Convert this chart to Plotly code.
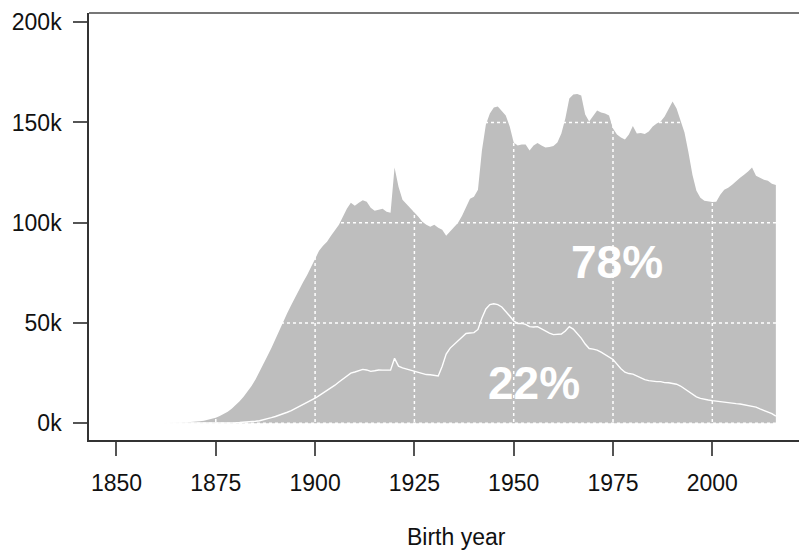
import plotly.graph_objects as go

years = list(range(1858, 2017))

# total births per year (thousands) - grey area
total_k = [
    0.0, 0.0, 0.1, 0.1, 0.1, 0.2, 0.2, 0.3, 0.3, 0.4,          # 1858-1867
    0.5, 0.6, 0.8, 1.0, 1.3, 1.7, 2.2, 2.8, 3.6, 4.6,          # 1868-1877
    5.8, 7.3, 9.0, 11.0, 13.2, 15.8, 18.6, 21.8, 25.5, 29.5,   # 1878-1887
    33.5, 37.5, 42.0, 46.5, 50.8, 55.0, 59.0, 63.0, 67.0, 70.5,  # 1888-1897
    74.0, 78.0, 82.0, 86.0, 88.5, 90.5, 93.5, 96.5, 99.0, 103.0,  # 1898-1907
    107.0, 110.0, 108.5, 110.0, 111.2, 110.5, 107.5, 106.0, 106.5, 107.0,  # 1908-1917
    105.5, 105.0, 127.5, 118.0, 111.5, 109.5, 107.5, 105.5, 103.0, 100.5,  # 1918-1927
    99.0, 98.0, 99.0, 97.5, 96.5, 93.5, 95.5, 98.0, 100.0, 103.5,  # 1928-1937
    108.0, 112.0, 113.0, 116.5, 136.0, 149.0, 154.5, 157.5, 158.0, 156.0,  # 1938-1947
    153.5, 148.0, 140.0, 138.5, 139.0, 139.0, 136.0, 138.5, 139.8, 138.5,  # 1948-1957
    137.5, 137.8, 138.3, 140.0, 144.5, 152.0, 162.0, 164.0, 164.2, 163.5,  # 1958-1967
    154.0, 150.5, 153.5, 156.0, 155.0, 154.5, 153.5, 147.0, 144.0, 142.5,  # 1968-1977
    141.5, 144.0, 148.3, 144.5, 144.8, 144.2, 145.5, 148.0, 149.5, 150.5,  # 1978-1987
    153.0, 157.0, 160.5, 157.0, 151.0, 145.0, 135.0, 124.0, 116.0, 112.5,  # 1988-1997
    111.0, 110.5, 110.3, 110.5, 114.0, 116.5, 117.5, 119.0, 121.0, 122.5,  # 1998-2007
    124.0, 125.5, 127.5, 123.5, 122.5, 121.5, 121.0, 119.5, 118.8,  # 2008-2016
]

# subset births per year (thousands) - white line
subset_k = [
    0.0, 0.0, 0.0, 0.0, 0.0, 0.0, 0.0, 0.0, 0.0, 0.0,          # 1858-1867
    0.0, 0.0, 0.05, 0.05, 0.05, 0.1, 0.1, 0.1, 0.1, 0.2,       # 1868-1877
    0.2, 0.3, 0.3, 0.4, 0.5, 0.6, 0.8, 1.0, 1.3, 1.7,          # 1878-1887
    2.2, 2.8, 3.4, 4.0, 4.7, 5.5, 6.3, 7.3, 8.3, 9.3,          # 1888-1897
    10.4, 11.5, 12.5, 13.8, 15.0, 16.3, 17.6, 19.0, 20.6, 22.2,  # 1898-1907
    23.8, 25.0, 25.6, 26.2, 26.9, 26.6, 25.9, 26.2, 26.6, 26.5,  # 1908-1917
    26.6, 26.5, 32.4, 28.5, 27.6, 27.0, 26.4, 26.0, 25.2, 24.8,  # 1918-1927
    24.3, 24.2, 23.9, 23.6, 28.5, 34.5, 37.5, 39.3, 41.0, 43.0,  # 1928-1937
    44.8, 45.0, 45.2, 46.8, 52.5, 57.0, 59.2, 59.6, 59.2, 58.0,  # 1938-1947
    56.0, 53.5, 51.0, 49.8, 49.8, 49.3, 48.2, 48.0, 48.2, 47.0,  # 1948-1957
    46.0, 45.0, 44.2, 44.3, 44.5, 46.0, 48.2, 47.0, 45.0, 42.5,  # 1958-1967
    39.5, 37.3, 37.0, 36.5, 35.5, 34.3, 33.0, 31.8, 29.5, 27.2,  # 1968-1977
    25.5, 24.8, 24.5, 23.6, 22.6, 21.8, 21.3, 21.0, 20.8, 20.8,  # 1978-1987
    20.3, 20.2, 20.0, 19.5, 18.6, 17.3, 15.8, 14.3, 13.2, 12.4,  # 1988-1997
    11.9, 11.6, 11.3, 11.0, 10.9, 10.7, 10.4, 10.1, 9.8, 9.6,   # 1998-2007
    9.3, 9.0, 8.6, 8.1, 7.2, 6.5, 5.8, 4.8, 3.6,                 # 2008-2016
]

x_ticks = [1850, 1875, 1900, 1925, 1950, 1975, 2000]
y_ticks = [0, 50, 100, 150, 200]
y_tick_labels = ["0k", "50k", "100k", "150k", "200k"]

share_labels = ["78%", "22%"]
share_pos_x = [1975.9, 1955.2]
share_pos_y = [80.2, 20.0]

FONT = "Liberation Sans, Arial, Helvetica, sans-serif"

# The page body has an 8px default margin, so the figure is sized/offset to fit it.
W, H = 799, 542
ML, MT, MR = 81, 5, 0
PLOT_H = 427
MB = H - MT - PLOT_H
PLOT_W = W - ML - MR

fig = go.Figure()
fig.add_trace(go.Scatter(
    x=years, y=total_k, mode="lines", fill="tozeroy",
    fillcolor="#bebebe", line=dict(width=0, color="#bebebe"),
    hoverinfo="skip", showlegend=False))
fig.add_trace(go.Scatter(
    x=years, y=subset_k, mode="lines",
    line=dict(width=1.4, color="white"),
    hoverinfo="skip", showlegend=False))

shapes = []
for xv in x_ticks:
    shapes.append(dict(type="line", xref="x", yref="paper", x0=xv, x1=xv, y0=0, y1=1,
                       line=dict(color="white", width=1.5, dash="dot"), layer="above"))
for yv in y_ticks:
    shapes.append(dict(type="line", xref="paper", yref="y", x0=0, x1=1, y0=yv, y1=yv,
                       line=dict(color="white", width=1.5, dash="dot"), layer="above"))
# top frame line
shapes.append(dict(type="line", xref="paper", yref="paper", x0=0, x1=1, y0=1, y1=1,
                   line=dict(color="#777777", width=2), layer="above"))

annotations = []
for t, ax_, ay_ in zip(share_labels, share_pos_x, share_pos_y):
    annotations.append(dict(x=ax_, y=ay_, xref="x", yref="y", text=t, showarrow=False,
                            font=dict(family=FONT, size=46, color="white", weight=700),
                            xanchor="center", yanchor="middle"))
# x-axis title: centre at page x=456.5, y=537 (page coords), plot area starts at (89, 13)
annotations.append(dict(x=(456.5 - 89) / PLOT_W, y=(440 - 537) / PLOT_H, xref="paper", yref="paper",
                        text="Birth year", showarrow=False,
                        font=dict(family=FONT, size=23, color="#111111"),
                        xanchor="center", yanchor="middle"))

fig.update_layout(
    width=W, height=H,
    margin=dict(l=ML, r=MR, t=MT, b=MB, pad=0),
    paper_bgcolor="white", plot_bgcolor="white",
    shapes=shapes, annotations=annotations,
    font=dict(family=FONT, size=23, color="#111111"),
    xaxis=dict(range=[1843.08, 2023.84], tickvals=x_ticks, showgrid=False, zeroline=False,
               showline=True, linecolor="#333333", linewidth=1.5,
               ticks="outside", ticklen=14, tickwidth=1.5, tickcolor="#555555",
               ticklabelstandoff=8, tickfont=dict(family=FONT, size=23, color="#111111")),
    yaxis=dict(range=[-8.33, 204.6], tickvals=y_ticks, ticktext=y_tick_labels,
               showgrid=False, zeroline=False,
               showline=True, linecolor="#333333", linewidth=1.5,
               ticks="outside", ticklen=14, tickwidth=1.5, tickcolor="#555555",
               ticklabelstandoff=7, tickfont=dict(family=FONT, size=23, color="#111111")),
)

fig.write_html("out.html")
